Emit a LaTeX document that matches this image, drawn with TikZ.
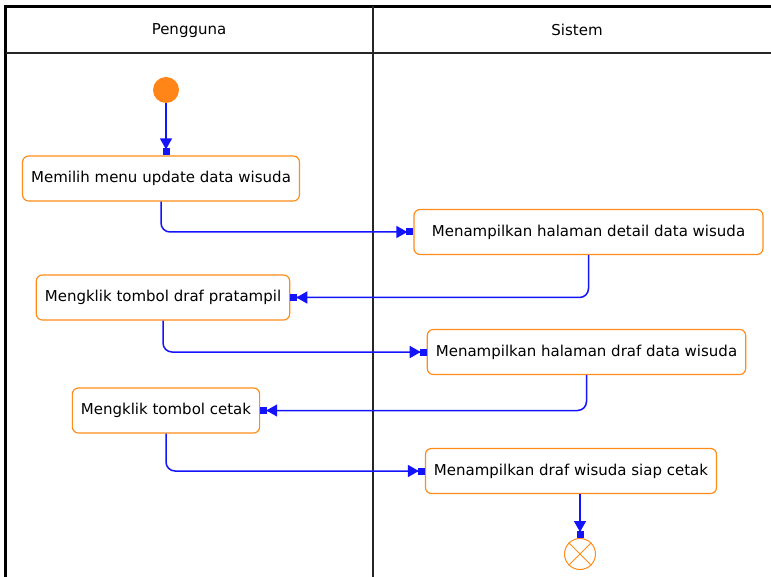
\documentclass[tikz,border=0pt]{standalone}
\usepackage{fontspec}
\setmainfont{DejaVu Sans}
\usetikzlibrary{arrows.meta}
\definecolor{oranye}{RGB}{255,140,26}
\definecolor{biru}{RGB}{20,20,250}
\tikzset{
  aksi/.style={draw=oranye,line width=1.2pt,rounded corners=6pt,fill=white,
    minimum height=45pt,inner xsep=8.5pt,font=\fontsize{15}{17}\selectfont},
  alur/.style={biru,line width=1.5pt,rounded corners=9pt,
    -{Triangle[length=11pt,width=12pt,sep=-1pt]Rectangle[length=7pt,width=7pt]}},
  lajur/.style={font=\fontsize{15}{17}\selectfont},
}
\begin{document}
\begin{tikzpicture}[x=1pt,y=-1pt]
  \useasboundingbox (0,0) rectangle (771,577);
  % swimlanes
  \draw[line width=2.6pt] (5.5,577) -- (5.5,6.5) -- (771,6.5);
  \draw[line width=1.6pt,black!85] (5.5,53) -- (771,53);
  \draw[line width=1.3pt,black!85] (373,6.5) -- (373,577);
  \node[lajur] (pengguna) at (189,31) {Pengguna};
  \node[lajur] (sistem) at (577,30) {Sistem};
  % activities
  \node[circle,fill=oranye!95!red,minimum size=26pt,inner sep=0pt] (mulai) at (166,90) {};
  \node[aksi] (a1) at (161,178.5) {Memilih menu update data wisuda};
  \node[aksi,minimum width=349pt] (a2) at (588.5,232) {Menampilkan halaman detail data wisuda};
  \node[aksi] (a3) at (163,297.5) {Mengklik tombol draf pratampil};
  \node[aksi] (a4) at (586.5,352) {Menampilkan halaman draf data wisuda};
  \node[aksi] (a5) at (166,410.5) {Mengklik tombol cetak};
  \node[aksi] (a6) at (571,471) {Menampilkan draf wisuda siap cetak};
  \node[circle,draw=oranye,line width=1pt,fill=white,minimum size=31pt,inner sep=0pt] (selesai) at (580,554) {};
  \draw[oranye,line width=1pt] (selesai.north west) -- (selesai.south east)
    (selesai.north east) -- (selesai.south west);
  % flows
  \draw[alur] (mulai.south) -- (mulai.south |- a1.north);
  \draw[alur] (a1.south) |- (a2.west);
  \draw[alur] (a2.south) |- (a3.east);
  \draw[alur] (a3.south) |- (a4.west);
  \draw[alur] (a4.south) |- (a5.east);
  \draw[alur] (a5.south) |- (a6.west);
  \draw[alur] (selesai.north |- a6.south) -- (selesai.north);
\end{tikzpicture}
\end{document}
